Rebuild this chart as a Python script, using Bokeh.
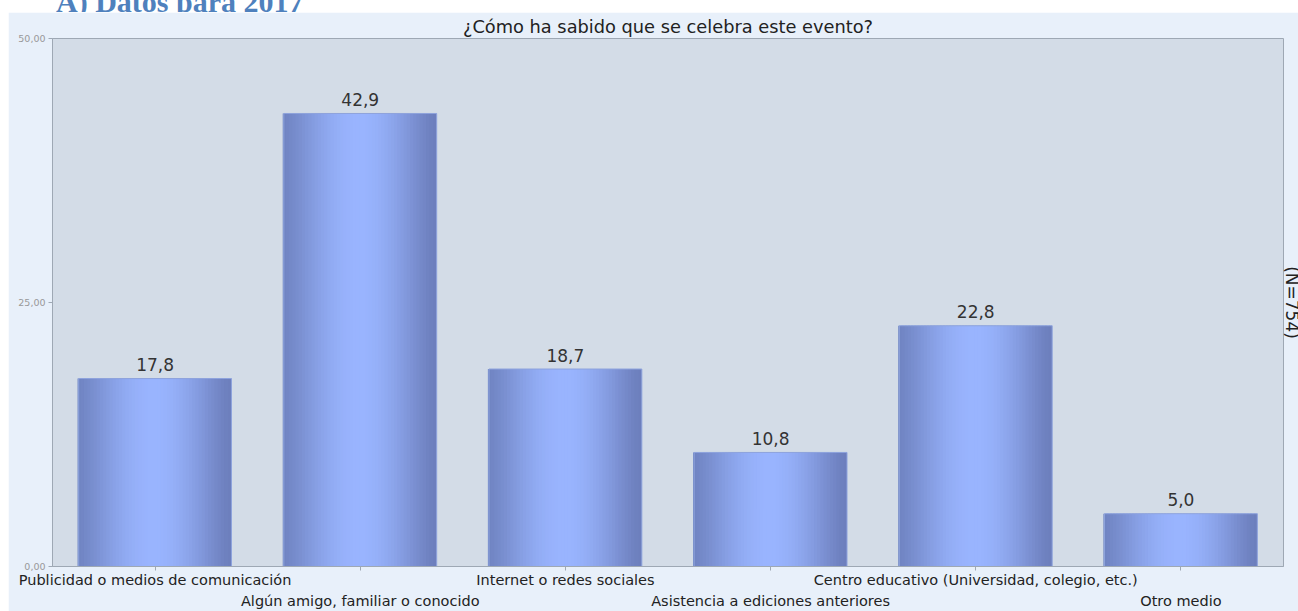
import math
from bokeh.plotting import figure
from bokeh.models import (LinearAxis, FixedTicker, Range1d, Spacer,
                          ColumnDataSource, Div)
from bokeh.layouts import column, row
from bokeh.embed import file_html
from bokeh.resources import INLINE

# ---- data ----
categories = [
    "Publicidad o medios de comunicación",
    "Algún amigo, familiar o conocido",
    "Internet o redes sociales",
    "Asistencia a ediciones anteriores",
    "Centro educativo (Universidad, colegio, etc.)",
    "Otro medio",
]
values = [17.8, 42.9, 18.7, 10.8, 22.8, 5.0]
y_ticks = [0, 25, 50]
title_text = "¿Cómo ha sabido que se celebra este evento?"
n_text = "(N=754)"
heading_text = "A) Datos para 2017"

FONT = "DejaVu Sans"

def fmt(v, d):
    return f"{v:.{d}f}".replace(".", ",")

p = figure(width=1310, height=599, output_backend="svg", toolbar_location=None,
           x_range=Range1d(-0.5, len(categories) - 0.5), y_range=Range1d(0, 50),
           x_axis_type=None, y_axis_type=None,
           min_border_left=44, min_border_right=23, min_border_top=26,
           min_border_bottom=43)
p.border_fill_color = "#e8f0fa"
p.background_fill_color = "#d3dce7"
p.outline_line_color = "#9ea8b4"
p.grid.visible = False

p.title.text = title_text
p.title.align = "center"
p.title.text_font = FONT
p.title.text_font_size = "17.8px"
p.title.text_font_style = "normal"
p.title.text_color = "#222222"
p.title.offset = 0
p.title.standoff = 3

# ---- gradient bars built from strips ----
bar_w = 0.745
n_strips = 48
step = bar_w / n_strips
edge_l = (112, 132, 194)
edge_r = (108, 126, 188)
center = (153, 180, 254)
xs, tops, ws, cols = [], [], [], []
for i, v in enumerate(values):
    for k in range(n_strips):
        t = (k + 0.5) / n_strips * 2 - 1  # -1..1
        f = math.cos(t * math.pi / 2) ** 1.3
        edge = edge_l if t < 0 else edge_r
        c = tuple(int(round(e + (cc - e) * f)) for e, cc in zip(edge, center))
        xs.append(i - bar_w / 2 + (k + 0.5) * step)
        tops.append(v)
        ws.append(step * 1.7 if k < n_strips - 1 else step)
        cols.append("#%02x%02x%02x" % c)
p.vbar(x=xs, top=tops, width=ws, bottom=0, fill_color=cols, line_color=None)
p.vbar(x=list(range(len(values))), top=values, width=bar_w, bottom=0,
       fill_color=None, line_color="#8ea3dc", line_width=1)

# value labels
src = ColumnDataSource(dict(x=list(range(len(values))), y=values,
                            t=[fmt(v, 1) for v in values]))
p.text(x="x", y="y", text="t", source=src, text_align="center",
       text_baseline="alphabetic", y_offset=-14, text_font_size="17px",
       text_color="#333333", text_font={"value": FONT})

# ---- axes ----
yaxis = LinearAxis(ticker=FixedTicker(ticks=y_ticks))
yaxis.major_label_overrides = {t: fmt(t, 2) for t in y_ticks}
yaxis.major_label_text_font = FONT
yaxis.major_label_text_font_size = "9.5px"
yaxis.major_label_text_color = "#999999"
yaxis.axis_line_color = "#9ea8b4"
yaxis.major_tick_line_color = "#9ea8b4"
yaxis.major_tick_out = 4
yaxis.major_tick_in = 0
yaxis.minor_tick_line_color = None
yaxis.major_label_standoff = 3
p.add_layout(yaxis, "left")

# right axis carrying only the (N=...) label
raxis = LinearAxis(ticker=FixedTicker(ticks=[]), axis_label=n_text)
raxis.axis_line_color = None
raxis.major_tick_line_color = None
raxis.minor_tick_line_color = None
raxis.major_tick_out = 0
raxis.major_tick_in = 0
raxis.major_label_standoff = 0
raxis.axis_label_standoff = -2
raxis.axis_label_text_font = FONT
raxis.axis_label_text_font_size = "17px"
raxis.axis_label_text_font_style = "normal"
raxis.axis_label_text_color = "#222222"
p.add_layout(raxis, "right")

idx = list(range(len(categories)))
x1 = LinearAxis(ticker=FixedTicker(ticks=idx))
x1.major_label_overrides = {i: (c if i % 2 == 0 else "") for i, c in enumerate(categories)}
x2 = LinearAxis(ticker=FixedTicker(ticks=idx))
x2.major_label_overrides = {i: (c if i % 2 == 1 else "") for i, c in enumerate(categories)}
for ax in (x1, x2):
    ax.major_label_text_font = FONT
    ax.major_label_text_font_size = "14.5px"
    ax.major_label_text_color = "#222222"
    ax.minor_tick_line_color = None
    ax.major_label_orientation = "horizontal"
x1.axis_line_color = "#9ea8b4"
x1.major_tick_line_color = "#9ea8b4"
x1.major_tick_out = 4
x1.major_tick_in = 0
x1.major_label_standoff = 1
x2.axis_line_color = None
x2.major_tick_line_color = None
x2.major_tick_out = 0
x2.major_tick_in = 0
x2.major_label_standoff = 2
p.add_layout(x1, "below")
p.add_layout(x2, "below")

heading = Div(
    text=('<div style="font-family:\'Liberation Serif\';font-weight:bold;'
          'font-size:30px;line-height:2px;color:#4f81bd;margin:0 0 0 56px;'
          'padding:0;white-space:nowrap;">' + heading_text + '</div>'),
    width=1298, height=12, margin=0,
    styles={"overflow": "hidden", "height": "12px"})

body = row(Spacer(width=8, height=599, margin=0), p, spacing=0,
           width=1298, height=599,
           styles={"overflow": "hidden", "width": "1298px", "max-width": "1298px"})
layout = column(heading, body, spacing=0, width=1298,
                styles={"overflow": "hidden", "width": "1298px"})
open("out.html", "w").write(file_html(layout, INLINE))
